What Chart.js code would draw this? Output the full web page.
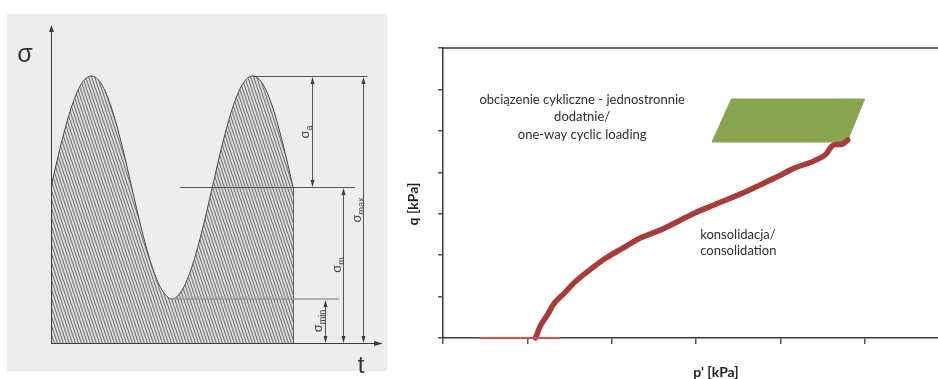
<!DOCTYPE html>
<html>
<head>
<meta charset="utf-8">
<script src="https://cdn.jsdelivr.net/npm/chart.js@4"></script>
<style>
  html, body { margin: 0; padding: 0; background: #ffffff; overflow: hidden; width: 938px; height: 379px; }
  #wrapL { position: absolute; left: 0; top: 0; width: 400px; height: 379px; }
  #wrapR { position: absolute; left: 400px; top: 0; width: 560px; height: 379px; }
</style>
</head>
<body>
<div id="wrapL"><canvas id="sigma" width="400" height="379"></canvas></div>
<div id="wrapR"><canvas id="pq" width="560" height="379"></canvas></div>
<script>
// ---- cyclic stress diagram (sigma over time) ----
const tValues     = [0, 0.25, 0.5, 0.75, 1, 1.25, 1.5, 1.75, 2, 2.25, 2.5, 2.75, 3, 3.25, 3.5, 3.75, 4, 4.25, 4.5, 4.75, 5, 5.25, 5.5, 5.75, 6];
const sigmaValues = [1.56, 1.99, 2.35, 2.59, 2.67, 2.59, 2.35, 1.99, 1.56, 1.13, 0.77, 0.53, 0.44, 0.53, 0.77, 1.13, 1.56, 1.99, 2.35, 2.59, 2.67, 2.59, 2.35, 1.99, 1.56];
const sigmaLevels = [0.44, 1.56, 2.67];          // sigma_min, sigma_m, sigma_max
const sigmaDimNames = [['σ', 'a'], ['σ', 'm'], ['σ', 'max'], ['σ', 'min']];
const sigmaAxisNames = ['σ', 't'];

// ---- stress path in p'-q plane ----
const pBaseline = [0.43, 1.39];
const qBaseline = [0, 0];
const pConsol = [1.097, 1.158, 1.239, 1.320, 1.442, 1.564, 1.706, 1.931, 2.133, 2.334, 2.583, 2.820, 2.986, 3.235, 3.555, 3.756, 3.963, 4.166, 4.372, 4.532, 4.594, 4.633, 4.736, 4.799];
const qConsol = [0, 0.31, 0.56, 0.84, 1.09, 1.35, 1.59, 1.93, 2.17, 2.41, 2.61, 2.85, 3.02, 3.23, 3.50, 3.69, 3.89, 4.10, 4.25, 4.42, 4.59, 4.66, 4.68, 4.78];
const pCyclic = [3.19, 3.42, 5.00, 4.79, 3.19];
const qCyclic = [4.73, 5.77, 5.77, 4.73, 4.73];
const pTicks = [0, 1, 2, 3, 4, 5, 6];
const qTicks = [0, 1, 2, 3, 4, 5, 6, 7];
const cyclicText = ['obciązenie cykliczne - jednostronnie', 'dodatnie/', 'one-way cyclic loading'];
const consolText = ['konsolidacja/', 'consolidation'];
const pqAxisNames = ["p' [kPa]", 'q [kPa]'];

const pts = (xs, ys) => xs.map((x, i) => ({ x: x, y: ys[i] }));

// diagonal hatch for the area under the stress curve
const sigmaCanvas = document.getElementById('sigma');
const hatch = (() => {
  const tile = document.createElement('canvas');
  tile.width = 3; tile.height = 9;
  const g = tile.getContext('2d');
  g.fillStyle = '#d8d8d8';
  g.fillRect(0, 0, 3, 9);
  g.strokeStyle = '#727272';
  g.lineWidth = 1;
  for (const k of [-3, 0, 3]) {
    g.beginPath(); g.moveTo(k, 0); g.lineTo(k + 3, 9); g.stroke();
  }
  return sigmaCanvas.getContext('2d').createPattern(tile, 'repeat');
})();

function arrowHead(ctx, x, y, dir, len, half) {
  // dir: 'up' | 'down' | 'right'
  ctx.beginPath();
  if (dir === 'up') { ctx.moveTo(x, y); ctx.lineTo(x - half, y + len); ctx.lineTo(x + half, y + len); }
  else if (dir === 'down') { ctx.moveTo(x, y); ctx.lineTo(x - half, y - len); ctx.lineTo(x + half, y - len); }
  else { ctx.moveTo(x, y); ctx.lineTo(x - len, y - half); ctx.lineTo(x - len, y + half); }
  ctx.closePath();
  ctx.fill();
}

function rotatedSigma(ctx, x, y, parts) {
  ctx.save();
  ctx.translate(x, y);
  ctx.rotate(-Math.PI / 2);
  ctx.fillStyle = '#4a4a4a';
  ctx.textBaseline = 'alphabetic';
  ctx.font = '13px "Liberation Sans", Arial, sans-serif';
  const w1 = ctx.measureText(parts[0]).width;
  ctx.font = '9px "Liberation Sans", Arial, sans-serif';
  const w2 = ctx.measureText(parts[1]).width;
  const start = -(w1 + w2) / 2;
  ctx.font = '13px "Liberation Sans", Arial, sans-serif';
  ctx.fillText(parts[0], start, 4);
  ctx.font = '9px "Liberation Sans", Arial, sans-serif';
  ctx.fillText(parts[1], start + w1, 7);
  ctx.restore();
}

const sigmaDecor = {
  id: 'sigmaDecor',
  beforeDraw(chart) {
    const ctx = chart.ctx;
    ctx.save();
    ctx.fillStyle = '#ededed';
    ctx.fillRect(7, 14, 380, 357);
    ctx.restore();
  },
  afterDatasetsDraw(chart) {
    const ctx = chart.ctx;
    const xs = chart.scales.x, ys = chart.scales.y;
    const X = v => xs.getPixelForValue(v);
    const Y = v => ys.getPixelForValue(v);
    const [sMin, sM, sMax] = sigmaLevels;
    ctx.save();
    // axes with arrows
    ctx.strokeStyle = '#3c3c3c';
    ctx.fillStyle = '#3c3c3c';
    ctx.lineWidth = 1;
    ctx.beginPath();
    ctx.moveTo(X(0) + 0.5, Y(0)); ctx.lineTo(X(0) + 0.5, Y(ys.max) + 4);
    ctx.moveTo(X(0), Y(0) + 0.5); ctx.lineTo(X(xs.max) - 4, Y(0) + 0.5);
    ctx.stroke();
    arrowHead(ctx, X(0) + 0.5, Y(ys.max), 'up', 7, 2.5);
    arrowHead(ctx, X(xs.max), Y(0) + 0.5, 'right', 9, 2.5);

    // extension lines at sigma_max, sigma_m, sigma_min
    ctx.strokeStyle = '#555';
    ctx.beginPath();
    ctx.moveTo(X(5), Y(sMax) + 0.5); ctx.lineTo(X(7.84), Y(sMax) + 0.5);
    ctx.moveTo(X(3.2), Y(sM) + 0.5); ctx.lineTo(X(7.54), Y(sM) + 0.5);
    ctx.stroke();
    ctx.strokeStyle = '#9a9a9a';
    ctx.lineWidth = 1.5;
    ctx.beginPath();
    ctx.moveTo(X(3), Y(sMin)); ctx.lineTo(X(7.14), Y(sMin));
    ctx.stroke();

    // dimension lines
    ctx.strokeStyle = '#555';
    ctx.fillStyle = '#3c3c3c';
    ctx.lineWidth = 1;
    const dims = [[6.47, sMax, sM], [7.24, sM, 0], [7.74, sMax, 0], [6.79, sMin, 0]];
    for (const [dx, top, bot] of dims) {
      const px = Math.round(X(dx)) + 0.5;
      ctx.beginPath(); ctx.moveTo(px, Y(top) + 3); ctx.lineTo(px, Y(bot) - 3); ctx.stroke();
      arrowHead(ctx, px, Y(top) + 1, 'up', 7, 2);
      arrowHead(ctx, px, Y(bot), 'down', 7, 2);
    }
    // dimension labels
    rotatedSigma(ctx, X(6.30), Y(2.11), sigmaDimNames[0]);
    rotatedSigma(ctx, X(7.09), Y(0.78), sigmaDimNames[1]);
    rotatedSigma(ctx, X(7.59), Y(1.33), sigmaDimNames[2]);
    rotatedSigma(ctx, X(6.62), Y(0.22), sigmaDimNames[3]);

    // axis names
    ctx.fillStyle = '#333';
    ctx.font = '25px "Liberation Sans", Arial, sans-serif';
    ctx.textAlign = 'center';
    ctx.textBaseline = 'alphabetic';
    ctx.fillText(sigmaAxisNames[0], 25, 62);
    ctx.font = '24px "Liberation Sans", Arial, sans-serif';
    ctx.fillText(sigmaAxisNames[1], 361, 373);
    ctx.restore();
  }
};

new Chart(sigmaCanvas, {
  type: 'line',
  data: {
    datasets: [
      {
        data: pts(tValues, sigmaValues),
        borderColor: '#4d4747',
        borderWidth: 1,
        backgroundColor: hatch,
        fill: 'origin',
        pointRadius: 0,
        cubicInterpolationMode: 'monotone'
      },
      {
        data: [{ x: 6, y: sigmaLevels[1] }, { x: 6, y: 0 }],
        borderColor: '#4d4d4d',
        borderWidth: 1,
        pointRadius: 0,
        fill: false
      }
    ]
  },
  options: {
    responsive: false,
    animation: false,
    events: [],
    layout: { padding: { left: 51, right: 17, top: 25, bottom: 36 } },
    plugins: { legend: { display: false }, tooltip: { enabled: false } },
    scales: {
      x: { type: 'linear', display: false, min: 0, max: 8.23 },
      y: { type: 'linear', display: false, min: 0, max: 3.18 }
    }
  },
  plugins: [sigmaDecor]
});

// ---- p'-q chart ----
const pqDecor = {
  id: 'pqDecor',
  afterDraw(chart) {
    const ctx = chart.ctx;
    const a = chart.chartArea;
    const xs = chart.scales.x, ys = chart.scales.y;
    ctx.save();
    // upper frame line
    ctx.strokeStyle = '#3a3a3a';
    ctx.lineWidth = 1.5;
    ctx.beginPath(); ctx.moveTo(a.left, a.top); ctx.lineTo(a.right, a.top); ctx.stroke();

    // annotations
    ctx.fillStyle = '#2e2e2e';
    ctx.font = '13px Lato, "Open Sans", sans-serif';
    ctx.textBaseline = 'middle';
    ctx.textAlign = 'center';
    const cx = xs.getPixelForValue(1.65);
    [5.74, 5.33, 4.90].forEach((q, i) => ctx.fillText(cyclicText[i], cx, ys.getPixelForValue(q)));
    ctx.textAlign = 'left';
    const kx = xs.getPixelForValue(3.05);
    [2.49, 2.10].forEach((q, i) => ctx.fillText(consolText[i], kx, ys.getPixelForValue(q)));

    // axis titles
    ctx.font = 'bold 14px Lato, "Open Sans", sans-serif';
    ctx.fillStyle = '#1e1e1e';
    ctx.textAlign = 'center';
    ctx.fillText(pqAxisNames[0], 316, 372);
    ctx.save();
    ctx.translate(13, 204);
    ctx.rotate(-Math.PI / 2);
    ctx.fillText(pqAxisNames[1], 0, 0);
    ctx.restore();
    ctx.restore();
  }
};

new Chart(document.getElementById('pq'), {
  type: 'line',
  data: {
    datasets: [
      {
        data: pts(pBaseline, qBaseline),
        borderColor: '#d0504a',
        borderWidth: 2,
        pointRadius: 0,
        fill: false,
        clip: false,
        order: 0
      },
      {
        data: pts(pCyclic, qCyclic),
        borderColor: '#88a550',
        backgroundColor: '#88a550',
        borderWidth: 1,
        pointRadius: 0,
        fill: 'shape',
        order: 2
      },
      {
        data: pts(pConsol, qConsol),
        borderColor: '#a83c39',
        borderWidth: 5.5,
        borderCapStyle: 'round',
        borderJoinStyle: 'round',
        pointRadius: 0,
        fill: false,
        clip: false,
        tension: 0.3,
        order: 1
      }
    ]
  },
  options: {
    responsive: false,
    animation: false,
    events: [],
    layout: { padding: { left: 38, right: 11, top: 48, bottom: 35 } },
    plugins: { legend: { display: false }, tooltip: { enabled: false } },
    scales: {
      x: {
        type: 'linear', min: pTicks[0], max: pTicks[pTicks.length - 1],
        afterBuildTicks: s => { s.ticks = pTicks.map(v => ({ value: v })); },
        ticks: { display: false },
        grid: { drawOnChartArea: false, drawTicks: true, tickLength: 6, color: '#555', lineWidth: 1.5 },
        border: { display: true, color: '#3a3a3a', width: 1.5 }
      },
      y: {
        type: 'linear', min: qTicks[0], max: qTicks[qTicks.length - 1],
        afterBuildTicks: s => { s.ticks = qTicks.map(v => ({ value: v })); },
        ticks: { display: false },
        grid: { drawOnChartArea: false, drawTicks: true, tickLength: 5, color: '#555', lineWidth: 1.5 },
        border: { display: true, color: '#3a3a3a', width: 1.5 }
      }
    }
  },
  plugins: [pqDecor]
});
</script>
</body>
</html>
